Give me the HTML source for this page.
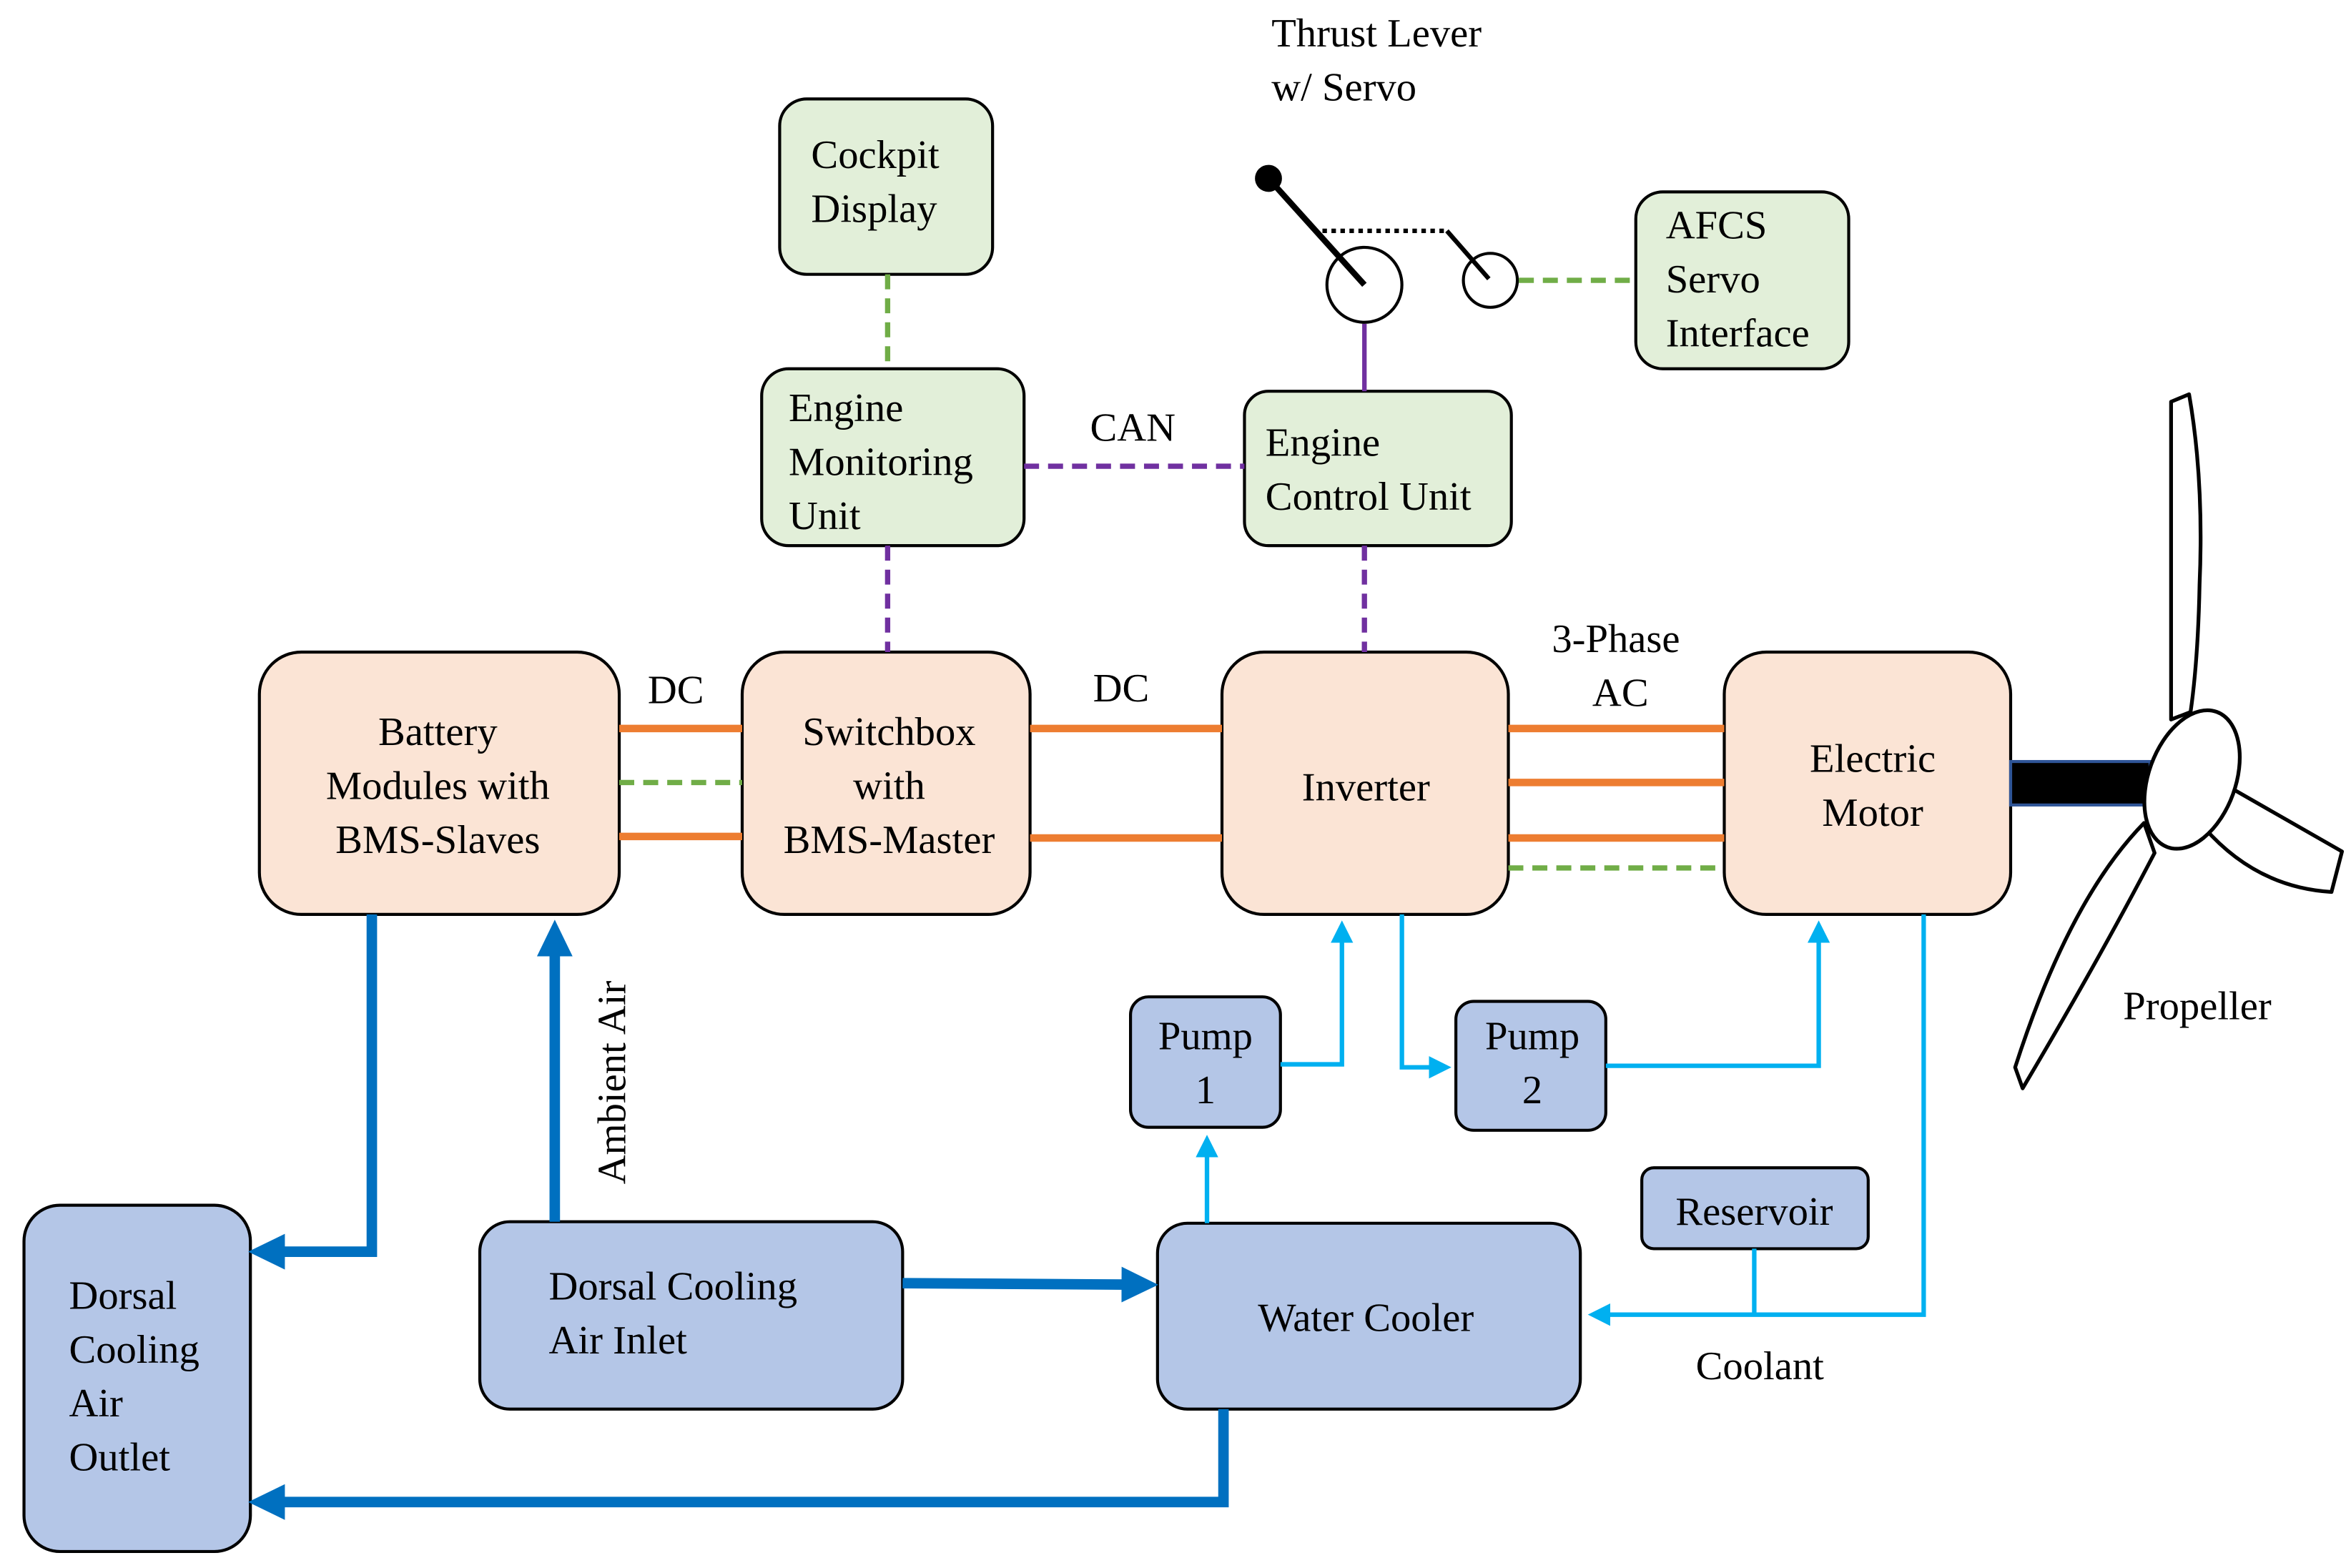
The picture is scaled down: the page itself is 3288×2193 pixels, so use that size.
<!DOCTYPE html>
<html><head><meta charset="utf-8"><style>
html,body{margin:0;padding:0;background:#fff;width:3288px;height:2193px;overflow:hidden}
svg{display:block}
svg text{font-family:"Liberation Serif","DejaVu Serif",serif;font-size:27px;fill:#000}
</style></head><body>
<svg width="3288" height="2193" viewBox="0 0 1568 1046" preserveAspectRatio="none" xmlns="http://www.w3.org/2000/svg" font-family="Liberation Serif, DejaVu Serif, serif">
<defs>
<marker id="ad" markerWidth="4" markerHeight="4" refX="2" refY="2" orient="auto" markerUnits="strokeWidth"><path d="M0,0.3 L3.5,2 L0,3.7z" fill="#0070c0"/></marker>
<marker id="al" markerWidth="5" markerHeight="5" refX="3" refY="2.5" orient="auto" markerUnits="strokeWidth"><path d="M0,0 L5,2.5 L0,5z" fill="#00b0f0"/></marker>
</defs>
<g stroke="#000" stroke-width="2">
<rect x="520" y="66" width="142" height="117" rx="18" fill="#e2efd9"/>
<rect x="508" y="246" width="175" height="118" rx="18" fill="#e2efd9"/>
<rect x="830" y="261" width="178" height="103" rx="16" fill="#e2efd9"/>
<rect x="1091" y="128" width="142" height="118" rx="18" fill="#e2efd9"/>
<rect x="173" y="435" width="240" height="175" rx="28" fill="#fbe4d5"/>
<rect x="495" y="435" width="192" height="175" rx="28" fill="#fbe4d5"/>
<rect x="815" y="435" width="191" height="175" rx="28" fill="#fbe4d5"/>
<rect x="1150" y="435" width="191" height="175" rx="28" fill="#fbe4d5"/>
<rect x="16" y="804" width="151" height="231" rx="24" fill="#b4c6e7"/>
<rect x="320" y="815" width="282" height="125" rx="20" fill="#b4c6e7"/>
<rect x="772" y="816" width="282" height="124" rx="20" fill="#b4c6e7"/>
<rect x="754" y="665" width="100" height="87" rx="12" fill="#b4c6e7"/>
<rect x="971" y="668" width="100" height="86" rx="12" fill="#b4c6e7"/>
<rect x="1095" y="779" width="151" height="54" rx="8" fill="#b4c6e7"/>
</g>
<g stroke="#ed7d31" stroke-width="5">
<line x1="413" y1="486" x2="495" y2="486"/><line x1="413" y1="558" x2="495" y2="558"/>
<line x1="687" y1="486" x2="815" y2="486"/><line x1="687" y1="559" x2="815" y2="559"/>
<line x1="1006" y1="486" x2="1150" y2="486"/><line x1="1006" y1="522" x2="1150" y2="522"/><line x1="1006" y1="559" x2="1150" y2="559"/>
</g>
<g stroke="#70ad47" stroke-width="3.5" stroke-dasharray="10,6" fill="none">
<line x1="413" y1="522" x2="495" y2="522"/>
<line x1="1006" y1="579" x2="1150" y2="579"/>
<line x1="592" y1="183" x2="592" y2="246"/>
<line x1="1013" y1="187" x2="1091" y2="187"/>
</g>
<g stroke="#7030a0" stroke-width="3.5" stroke-dasharray="10,6">
<line x1="683" y1="311" x2="830" y2="311"/>
<line x1="592" y1="364" x2="592" y2="435"/>
<line x1="910" y1="364" x2="910" y2="435"/>
</g>
<line x1="910" y1="216" x2="910" y2="261" stroke="#7030a0" stroke-width="3"/>
<circle cx="910" cy="190" r="25" fill="#fff" stroke="#000" stroke-width="2"/>
<line x1="846" y1="119" x2="910" y2="190" stroke="#000" stroke-width="4"/>
<circle cx="846" cy="119" r="9" fill="#000"/>
<polyline points="882,154 965,154" stroke="#000" stroke-width="3" stroke-dasharray="3,3" fill="none"/>
<circle cx="994" cy="187" r="18" fill="#fff" stroke="#000" stroke-width="2"/>
<line x1="965" y1="154" x2="993" y2="186" stroke="#000" stroke-width="3"/>
<g stroke="#0070c0" stroke-width="7" fill="none">
<polyline points="248,610 248,835 176,835" marker-end="url(#ad)"/>
<line x1="370" y1="815" x2="370" y2="624" marker-end="url(#ad)"/>
<line x1="602" y1="856" x2="762" y2="857" marker-end="url(#ad)"/>
<polyline points="816,940 816,1002 176,1002" marker-end="url(#ad)"/>
</g>
<g stroke="#00b0f0" stroke-width="3" fill="none">
<line x1="805" y1="816" x2="805" y2="763" marker-end="url(#al)"/>
<polyline points="854,710 895,710 895,620" marker-end="url(#al)"/>
<polyline points="935,610 935,712 962,712" marker-end="url(#al)"/>
<polyline points="1071,711 1213,711 1213,620" marker-end="url(#al)"/>
<polyline points="1283,610 1283,877 1065,877" marker-end="url(#al)"/>
<line x1="1170" y1="833" x2="1170" y2="877"/>
</g>
<rect x="1341" y="508" width="93" height="29" fill="#000" stroke="#2f5597" stroke-width="2"/>
<g fill="#fff" stroke="#000" stroke-width="2.5" stroke-linejoin="round">
<path d="M1448,480 L1448,268 L1460,263 Q1470,320 1467,390 Q1466,440 1461,475 Z"/>
<path d="M1478,520 L1562,568 L1555,595 Q1505,592 1470,552 Z"/>
<path d="M1430,549 Q1380,600 1344,712 L1349,726 Q1400,640 1437,569 Z"/>
<ellipse cx="1462" cy="520" rx="29" ry="48" transform="rotate(20 1462 520)"/>
</g>
<text x="541" y="112">Cockpit</text><text x="541" y="148">Display</text>
<text x="526" y="281">Engine</text><text x="526" y="317">Monitoring</text><text x="526" y="353">Unit</text>
<text x="844" y="304">Engine</text><text x="844" y="340">Control Unit</text>
<text x="1111" y="159">AFCS</text><text x="1111" y="195">Servo</text><text x="1111" y="231">Interface</text>
<text x="848" y="31">Thrust Lever</text><text x="848" y="67">w/ Servo</text>
<text x="727" y="294">CAN</text>
<text x="432" y="469">DC</text><text x="729" y="468">DC</text>
<text x="1035" y="435">3-Phase</text><text x="1062" y="471">AC</text>
<g text-anchor="middle">
<text x="292" y="497">Battery</text><text x="292" y="533">Modules with</text><text x="292" y="569">BMS-Slaves</text>
<text x="593" y="497">Switchbox</text><text x="593" y="533">with</text><text x="593" y="569">BMS-Master</text>
<text x="911" y="534">Inverter</text>
<text x="1249" y="515">Electric</text><text x="1249" y="551">Motor</text>
<text x="804" y="700">Pump</text><text x="804" y="736">1</text>
<text x="1022" y="700">Pump</text><text x="1022" y="736">2</text>
<text x="1170" y="817">Reservoir</text>
<text x="911" y="888">Water Cooler</text>
</g>
<text x="46" y="873">Dorsal</text><text x="46" y="909">Cooling</text><text x="46" y="945">Air</text><text x="46" y="981">Outlet</text>
<text x="366" y="867">Dorsal Cooling</text><text x="366" y="903">Air Inlet</text>
<text x="1131" y="920">Coolant</text>
<text x="1416" y="680">Propeller</text>
<text transform="translate(417,790) rotate(-90)">Ambient Air</text>
</svg>
</body></html>
